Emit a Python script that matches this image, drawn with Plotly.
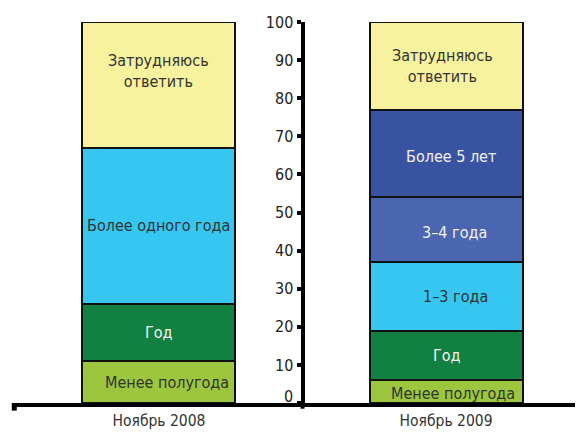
import plotly.graph_objects as go

categories = ["Ноябрь 2008", "Ноябрь 2009"]
# series (bottom to top)
series_names = ["Менее полугода", "Год", "1–3 года", "Более одного года", "3–4 года", "Более 5 лет", "Затрудняюсь<br>ответить"]
v2008 = [11, 15, 0, 41, 0, 0, 33]
v2009 = [6, 13, 18, 0, 17, 23, 23]
colors = ["#9BC63D", "#128040", "#36C6F2", "#36C6F2", "#4B66B1", "#3953A3", "#F6F29E"]
text_colors = ["#333333", "#F2F2F2", "#333333", "#333333", "#F2F2F2", "#F2F2F2", "#333333"]
yticks = [0, 10, 20, 30, 40, 50, 60, 70, 80, 90, 100]

# label pixel nudges (bar index, series index) -> (xshift, yshift)
nudges = {
    (0, 0): (8, 0), (0, 1): (0, 0), (0, 3): (0, 0), (0, 6): (0, 14),
    (1, 0): (7, -2), (1, 1): (1, 0), (1, 2): (9, 0), (1, 4): (8, -3), (1, 5): (5, -3), (1, 6): (-4, 0),
}

FONT = "DejaVu Sans Condensed, Liberation Sans Narrow, Arial Narrow, sans-serif"
xpos = [0, 1]
xmin, xmax = -0.512, 1.477

fig = go.Figure()
annotations = []
cum = [0, 0]
for i, name in enumerate(series_names):
    vals = [v2008[i], v2009[i]]
    fig.add_trace(go.Bar(
        x=xpos, y=vals, width=0.533, marker=dict(color=colors[i], line=dict(color="#111111", width=2)),
        showlegend=False, hoverinfo="skip"))
    for j in range(2):
        if vals[j] > 0:
            mid = cum[j] + vals[j] / 2
            xs, ys = nudges.get((j, i), (0, 0))
            annotations.append(dict(x=xpos[j], y=mid, text=name, showarrow=False, xref="x", yref="y",
                                    yshift=ys, xshift=xs,
                                    font=dict(family=FONT, size=16, color=text_colors[i])))
            cum[j] += vals[j]

# raised "0" tick label
annotations.append(dict(x=(0.5 - xmin) / (xmax - xmin), xref="paper", y=0, yref="y", text="0",
                        showarrow=False, xanchor="right", xshift=-8, yshift=7,
                        font=dict(family=FONT, size=16, color="#222222")))

fig.update_layout(
    barmode="stack",
    width=575, height=426,
    margin=dict(l=4, r=0, t=14, b=31, autoexpand=False),
    paper_bgcolor="white", plot_bgcolor="white",
    annotations=annotations,
    xaxis=dict(range=[xmin, xmax], tickvals=xpos, ticktext=categories, showgrid=False, zeroline=False,
               showline=True, linewidth=4, linecolor="#000000", ticks="", fixedrange=True,
               tickfont=dict(family=FONT, size=15.5, color="#333333")),
    yaxis=dict(range=[0, 100], tickvals=yticks, ticktext=[""] + [str(t) for t in yticks[1:]],
               showgrid=False, zeroline=False,
               showline=True, linewidth=4, linecolor="#000000", ticks="outside", ticklen=4, tickwidth=4,
               tickcolor="#000000", anchor="free", position=(0.5 - xmin) / (xmax - xmin),
               tickfont=dict(family=FONT, size=16, color="#222222")),
    shapes=[dict(type="line", xref="paper", yref="paper", x0=0.004, x1=0.004, y0=0, y1=-0.02,
                 line=dict(color="#000000", width=5)),
            dict(type="line", xref="paper", yref="paper",
                 x0=(0.5 - xmin) / (xmax - xmin), x1=(0.5 - xmin) / (xmax - xmin), y0=0, y1=-0.015,
                 line=dict(color="#000000", width=4))],
)

fig.write_html("out.html")
